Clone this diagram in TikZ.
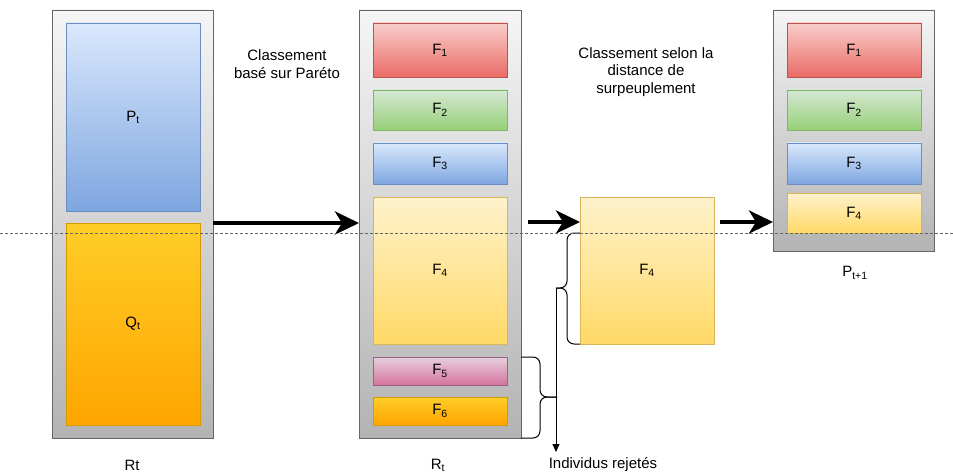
\documentclass[tikz,border=0pt]{standalone}
\usepackage{fontspec}
\setmainfont{Liberation Sans}
\usetikzlibrary{arrows.meta}

\definecolor{grayTop}{HTML}{F5F5F5}
\definecolor{grayBot}{HTML}{B3B3B3}
\definecolor{grayLine}{HTML}{666666}
\definecolor{blueTop}{HTML}{DAE8FC}
\definecolor{blueBot}{HTML}{7EA6E0}
\definecolor{blueLine}{HTML}{6C8EBF}
\definecolor{orangeTop}{HTML}{FFCD28}
\definecolor{orangeBot}{HTML}{FFA500}
\definecolor{orangeLine}{HTML}{D79B00}
\definecolor{redTop}{HTML}{F8CECC}
\definecolor{redBot}{HTML}{EA6B66}
\definecolor{redLine}{HTML}{B85450}
\definecolor{greenTop}{HTML}{D5E8D4}
\definecolor{greenBot}{HTML}{97D077}
\definecolor{greenLine}{HTML}{82B366}
\definecolor{yellowTop}{HTML}{FFF2CC}
\definecolor{yellowBot}{HTML}{FFD966}
\definecolor{yellowLine}{HTML}{D6B656}
\definecolor{pinkTop}{HTML}{E6D0DE}
\definecolor{pinkBot}{HTML}{D5739D}
\definecolor{pinkLine}{HTML}{996185}

\tikzset{
  box/.style={rectangle, inner sep=0pt, outer sep=0pt, font=\fontsize{15}{18}\selectfont, line width=0.8pt},
  container/.style={box, draw=grayLine, top color=grayTop, bottom color=grayBot},
  bluebox/.style={box, draw=blueLine, top color=blueTop, bottom color=blueBot},
  orangebox/.style={box, draw=orangeLine, top color=orangeTop, bottom color=orangeBot},
  redbox/.style={box, draw=redLine, top color=redTop, bottom color=redBot},
  greenbox/.style={box, draw=greenLine, top color=greenTop, bottom color=greenBot},
  yellowbox/.style={box, draw=yellowLine, top color=yellowTop, bottom color=yellowBot},
  pinkbox/.style={box, draw=pinkLine, top color=pinkTop, bottom color=pinkBot},
  lbl/.style={font=\fontsize{15}{17.5}\selectfont, align=center, inner sep=0pt},
  bigarrow/.style={line width=4pt, -{Stealth[length=24pt, width=23pt, inset=7pt]}},
  brace/.style={draw=black, line width=1pt, rounded corners=7pt},
  guide/.style={draw=grayLine, line width=0.7pt, dash pattern=on 2.5pt off 2.5pt},
}

\begin{document}
\begin{tikzpicture}[x=1pt, y=-1pt]
\useasboundingbox (0,0) rectangle (953,476);

% R_t : union of parents and offspring
\node[container, minimum width=161pt, minimum height=428pt, anchor=north west] (R) at (52,10) {};
\node[bluebox, minimum width=134pt, minimum height=188pt, anchor=north west] (P) at (66,23) {P\textsubscript{t}};
\node[orangebox, minimum width=134pt, minimum height=202pt, anchor=north west] (Q) at (66,223) {Q\textsubscript{t}};
\node[lbl] (Rlbl) at (132,465) {Rt};

% R_t sorted into fronts
\node[container, minimum width=162pt, minimum height=428pt, anchor=north west] (S) at (359,10) {};
\node[redbox, minimum width=134pt, minimum height=54pt, anchor=north west] (a1) at (373,23) {F\textsubscript{1}};
\node[greenbox, minimum width=134pt, minimum height=40pt, anchor=north west] (a2) at (373,90) {F\textsubscript{2}};
\node[bluebox, minimum width=134pt, minimum height=41pt, anchor=north west] (a3) at (373,143) {F\textsubscript{3}};
\node[yellowbox, minimum width=134pt, minimum height=147pt, anchor=north west] (a4) at (373,197) {F\textsubscript{4}};
\node[pinkbox, minimum width=134pt, minimum height=28pt, anchor=north west] (a5) at (373,357) {F\textsubscript{5}};
\node[orangebox, minimum width=134pt, minimum height=28pt, anchor=north west] (a6) at (373,397) {F\textsubscript{6}};
\node[lbl] (Slbl) at (438,465) {R\textsubscript{t}};

% front F4 sorted by crowding distance
\node[yellowbox, minimum width=134pt, minimum height=147pt, anchor=north west] (b4) at (580,197) {F\textsubscript{4}};

% P_{t+1}
\node[container, minimum width=161pt, minimum height=241pt, anchor=north west] (N) at (773,10) {};
\node[redbox, minimum width=134pt, minimum height=54pt, anchor=north west] (c1) at (787,23) {F\textsubscript{1}};
\node[greenbox, minimum width=134pt, minimum height=40pt, anchor=north west] (c2) at (787,90) {F\textsubscript{2}};
\node[bluebox, minimum width=134pt, minimum height=41pt, anchor=north west] (c3) at (787,143) {F\textsubscript{3}};
\node[yellowbox, minimum width=134pt, minimum height=40pt, anchor=north west] (c4) at (787,193) {F\textsubscript{4}};
\node[lbl] (Nlbl) at (855,273) {P\textsubscript{t+1}};

% step captions
\node[lbl] (cap1) at (287,64) {Classement\\basé sur Paréto};
\node[lbl] (cap2) at (646,72) {Classement selon la\\distance de\\surpeuplement};

% main flow
\draw[bigarrow] (R.east |- 0,223) -- (S.west |- 0,223);
\coordinate (m2) at (528,222);
\draw[bigarrow] (m2) -- (b4.west |- 0,222);
\coordinate (m3) at (720,222);
\draw[bigarrow] (m3) -- (N.west |- 0,222);

% rejected individuals
\coordinate (tipA) at (556,288);
\coordinate (tipB) at (557,397);
\draw[brace] (580,233) -- (567,233) -- (567,288) -- (tipA);
\draw[brace] (b4.south west) -- (567,344) -- (567,288) -- (tipA);
\draw[brace] (a5.north east -| S.east) -- (540,357) -- (540,397) -- (tipB);
\draw[brace] (S.south east) -- (540,438) -- (540,397) -- (tipB);
\coordinate (rejEnd) at (556,452);
\draw[line width=1pt, -{Stealth[length=8pt, width=7pt, inset=0pt]}] (tipA) -- (rejEnd);
\node[lbl] (rej) at (603,465) {Individus rejetés};

% cut-off line
\coordinate (cutL) at (0,233);
\coordinate (cutR) at (953,233);
\draw[guide] (cutL) -- (cutR);
\end{tikzpicture}
\end{document}
